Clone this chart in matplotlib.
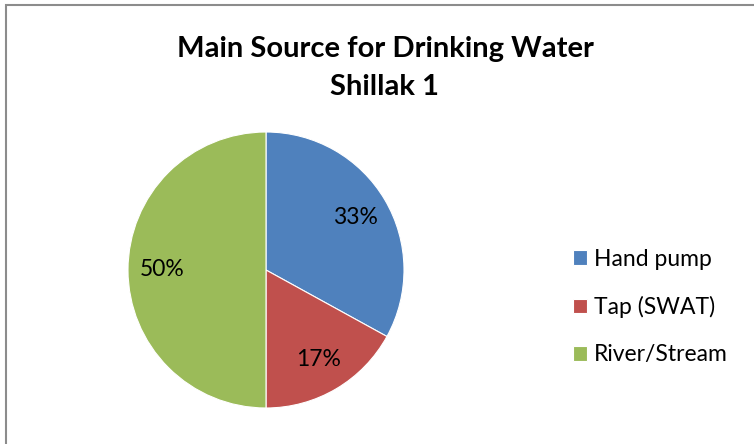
import matplotlib.pyplot as plt
from matplotlib.patches import Rectangle

# water sources, share of households (%)
sources = ['Hand pump', 'Tap (SWAT)', 'River/Stream']
shares = [33, 17, 50]
colors = ['#4F81BD', '#C0504D', '#9BBB59']
title = 'Main Source for Drinking Water\nShillak 1'

plt.rcParams['font.family'] = ['Lato', 'DejaVu Sans']

W, H = 754, 444
fig = plt.figure(figsize=(W / 100, H / 100), dpi=100)

# chart frame, left/top edges visible
fig.patches.append(Rectangle((6 / W, -0.1), 1.2, (H - 5) / H + 0.1,
                             transform=fig.transFigure, fill=False,
                             edgecolor='#8c8c8c', linewidth=1.5))

cx, cy, r = 266, 270, 138
ax = fig.add_axes([(cx - r) / W, (H - cy - r) / H, 2 * r / W, 2 * r / H])
wedges, texts, autotexts = ax.pie(
    shares, colors=colors, startangle=90, counterclock=False,
    autopct=lambda p: '%d%%' % round(p), pctdistance=0.75,
    wedgeprops=dict(edgecolor='white', linewidth=0.8),
    textprops=dict(fontsize=16.5, color='black'))
ax.set_xlim(-1, 1)
ax.set_ylim(-1, 1)

fig.text(385 / W, 1 - 68 / H, title, ha='center', va='center',
         fontsize=21, fontweight='bold', linespacing=1.55)

fig.legend(wedges, sources, loc='center left',
           bbox_to_anchor=(564 / W, 1 - 307 / H), frameon=False,
           fontsize=16.5, handlelength=0.6, handleheight=0.6,
           handletextpad=0.3, labelspacing=1.15, borderaxespad=0)

fig.savefig('out.png', dpi=100)
